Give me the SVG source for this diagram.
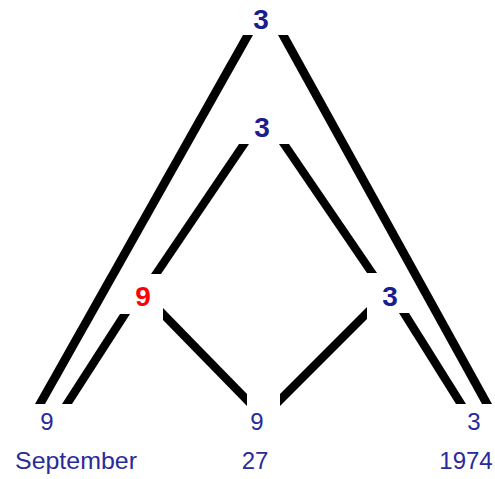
<svg xmlns="http://www.w3.org/2000/svg" width="495" height="479" viewBox="0 0 495 479">
<style>
.bold{font-family:"Liberation Sans",Arial,sans-serif;font-weight:bold;font-size:28px;fill:#1c1c8c;text-anchor:middle}
.red{fill:#ff0000}
.lab{font-family:"Liberation Sans",Arial,sans-serif;font-size:24px;fill:#2a2a9c;text-anchor:middle}
.edge{fill:#000000}
</style>
<rect width="495" height="479" fill="#ffffff"/>
<g id="connectors">
<polygon class="edge" points="243,35 253,35 45,404 35,404"/>
<polygon class="edge" points="278,35 288,35 492,404 482,404"/>
<polygon class="edge" points="239,144 249,144 161,274 151,274"/>
<polygon class="edge" points="279,144 289,144 377,273 367,273"/>
<polygon class="edge" points="120,314 130,314 72,404 62,404"/>
<polygon class="edge" points="163,308 163,320 247,406 247,394"/>
<polygon class="edge" points="367,307 367,319 280,406 280,394"/>
<polygon class="edge" points="399,313 409,313 466,404 456,404"/>
</g>
<g id="node-top"><text class="bold" x="261" y="29">3</text></g>
<g id="node-mid"><text class="bold" x="262" y="137">3</text></g>
<g id="node-left"><text class="bold red" x="143" y="306">9</text></g>
<g id="node-right"><text class="bold" x="390" y="306">3</text></g>
<g id="leaf-september">
<text class="lab" x="47" y="430">9</text>
<text class="lab" x="76" y="469" textLength="122" lengthAdjust="spacingAndGlyphs">September</text>
</g>
<g id="leaf-27">
<text class="lab" x="257" y="430">9</text>
<text class="lab" x="255" y="469">27</text>
</g>
<g id="leaf-1974">
<text class="lab" x="474" y="430">3</text>
<text class="lab" x="466" y="469">1974</text>
</g>
</svg>
